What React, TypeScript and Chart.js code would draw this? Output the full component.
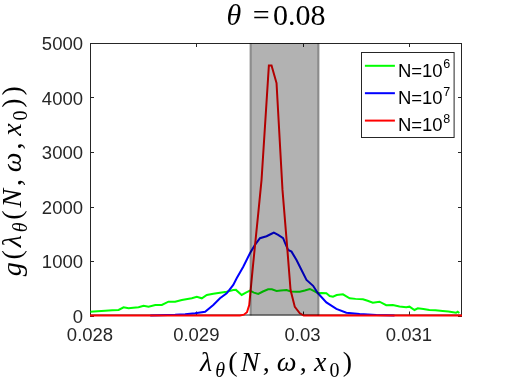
import { useEffect, useRef } from "react";
import { Chart, registerables } from "chart.js";

Chart.register(...registerables);

// ---------- data ----------
const xTickValues = [0.028, 0.029, 0.03, 0.031];
const xTickLabels = ["0.028", "0.029", "0.03", "0.031"];
const yTickValues = [0, 1000, 2000, 3000, 4000, 5000];
const yTickLabels = ["0", "1000", "2000", "3000", "4000", "5000"];
const bandRange = [0.02951, 0.03015];
const titleValue = "0.08";
const seriesExponents = ["6", "7", "8"];
const seriesColors = ["#00ff00", "#0000ff", "#ff0000"];

const greenX = [
  0.028004, 0.02807, 0.028144, 0.02821, 0.028269, 0.028316, 0.028363, 0.028407, 0.028457, 0.028504,
  0.028551, 0.028614, 0.028676, 0.028738, 0.028801, 0.028864, 0.028904, 0.028958, 0.029005, 0.029052,
  0.029099, 0.02916, 0.029223, 0.029286, 0.029348, 0.029373, 0.029427, 0.029467, 0.029505, 0.029542,
  0.029583, 0.029627, 0.029676, 0.029711, 0.029755, 0.029795, 0.029849, 0.029889, 0.029943, 0.029974,
  0.030021, 0.030068, 0.030105, 0.030145, 0.03018, 0.030224, 0.030255, 0.030286, 0.030321, 0.03038,
  0.030443, 0.030499, 0.030568, 0.030612, 0.030661, 0.030724, 0.030787, 0.030849, 0.030912, 0.030975,
  0.031006, 0.031053, 0.031084, 0.031137, 0.031193, 0.03125, 0.031318, 0.031372, 0.031444, 0.031459,
  0.031475,
];
const greenY = [
  70, 80, 88, 95, 101, 150, 132, 140, 150, 180,
  162, 193, 193, 253, 253, 285, 300, 316, 345, 316,
  377, 400, 419, 437, 468, 470, 377, 420, 455, 420,
  395, 440, 481, 480, 450, 460, 468, 440, 437, 437,
  460, 487, 450, 408, 415, 408, 358, 345, 375, 389,
  316, 305, 298, 270, 235, 253, 190, 193, 165, 150,
  162, 101, 132, 120, 101, 95, 83, 75, 51, 70,
  45,
];

const blueX = [
  0.028567, 0.02866, 0.028801, 0.028895, 0.028989, 0.029083, 0.02916, 0.029223, 0.029286, 0.029348,
  0.02938, 0.029442, 0.029505, 0.029552, 0.029599, 0.029661, 0.029708, 0.02973, 0.02977, 0.029817,
  0.029833, 0.029864, 0.029896, 0.029943, 0.02999, 0.030037, 0.030099, 0.030145, 0.030224, 0.030318,
  0.030412, 0.030537, 0.030693, 0.030865,
];
const blueY = [
  0, 5, 12, 22, 40, 70, 193, 316, 408, 560,
  683, 896, 1143, 1295, 1418, 1455, 1500, 1521, 1479, 1418,
  1340, 1203, 1172, 1019, 836, 652, 545, 408, 240, 120,
  51, 28, 9, 0,
];

const redX = [
  0.028, 0.029411, 0.029448, 0.029477, 0.029498, 0.029536, 0.029583, 0.029614, 0.029683, 0.029708,
  0.029755, 0.029811, 0.029855, 0.029887, 0.029927, 0.029974, 0.030011, 0.0315,
];
const redY = [
  0, 0, 15, 60, 193, 965, 1874, 2488, 4588, 4588,
  4265, 2305, 1258, 468, 158, 40, 0, 0,
];

// ---------- helpers ----------
type Seg = { t: string; it?: boolean; sub?: boolean; sp?: number };
const SERIF = "'Liberation Serif', serif";
const SANS = "'Liberation Sans', Arial, Helvetica, sans-serif";

function drawRich(
  ctx: CanvasRenderingContext2D,
  segs: Seg[],
  cx: number,
  baseline: number,
  size: number,
  rot: number,
  targetWidth?: number
) {
  ctx.save();
  ctx.translate(cx, baseline);
  ctx.rotate(rot);
  const fontOf = (s: Seg) => `${s.it ? "italic " : ""}${s.sub ? Math.round(size * 0.7) : size}px ${SERIF}`;
  let total = 0;
  const ws = segs.map((s) => {
    ctx.font = fontOf(s);
    const w = ctx.measureText(s.t).width + (s.sp || 0);
    total += w;
    return w;
  });
  let extra = 0;
  if (targetWidth && segs.length > 1) extra = (targetWidth - total) / (segs.length - 1);
  const full = total + extra * (segs.length - 1);
  let xx = -full / 2;
  ctx.textAlign = "left";
  ctx.textBaseline = "alphabetic";
  ctx.fillStyle = "#000";
  segs.forEach((s, i) => {
    ctx.font = fontOf(s);
    ctx.fillText(s.t, xx, s.sub ? size * 0.22 : 0);
    xx += ws[i] + extra;
  });
  ctx.restore();
}

const lambdaSegs: Seg[] = [
  { t: "λ", it: true },
  { t: "θ", it: true, sub: true },
  { t: "(" },
  { t: "N", it: true },
  { t: ",", sp: 4 },
  { t: "ω", it: true },
  { t: ",", sp: 4 },
  { t: "x", it: true },
  { t: "0", sub: true },
  { t: ")" },
];

const decorPlugin = {
  id: "decor",
  beforeDatasetsDraw(chart: any) {
    const { ctx, chartArea: a, scales } = chart;
    const xs = scales.x;
    const ys = scales.y;
    ctx.save();
    ctx.strokeStyle = "#262626";
    ctx.lineWidth = 1;
    ctx.strokeRect(a.left + 0.5, a.top + 0.5, a.right - a.left - 1, a.bottom - a.top - 1);
    ctx.beginPath();
    const tl = 4;
    xTickValues.forEach((v) => {
      const p = Math.round(xs.getPixelForValue(v)) + 0.5;
      ctx.moveTo(p, a.bottom);
      ctx.lineTo(p, a.bottom - tl);
      ctx.moveTo(p, a.top);
      ctx.lineTo(p, a.top + tl);
    });
    yTickValues.forEach((v) => {
      const p = Math.round(ys.getPixelForValue(v)) + 0.5;
      ctx.moveTo(a.left, p);
      ctx.lineTo(a.left + tl, p);
      ctx.moveTo(a.right, p);
      ctx.lineTo(a.right - tl, p);
    });
    ctx.stroke();
    ctx.restore();
  },
  afterDatasetsDraw(chart: any) {
    const { ctx, chartArea: a, scales } = chart;
    const xs = scales.x;
    const l = xs.getPixelForValue(bandRange[0]);
    const r = xs.getPixelForValue(bandRange[1]);
    ctx.save();
    ctx.fillStyle = "rgba(0,0,0,0.3)";
    ctx.fillRect(l, a.top, r - l, a.bottom - a.top);
    ctx.strokeStyle = "rgba(0,0,0,0.35)";
    ctx.lineWidth = 2;
    ctx.beginPath();
    ctx.moveTo(l, a.top);
    ctx.lineTo(l, a.bottom);
    ctx.moveTo(r, a.top);
    ctx.lineTo(r, a.bottom);
    ctx.stroke();
    ctx.restore();
  },
  afterDraw(chart: any) {
    const { ctx, chartArea: a } = chart;
    const cx = (a.left + a.right) / 2;
    const cy = (a.top + a.bottom) / 2;
    // title
    drawRich(
      ctx,
      [{ t: "θ", it: true, sp: 9 }, { t: "=", sp: 1 }, { t: titleValue }],
      cx,
      25,
      30,
      0,
      99
    );
    // x label
    drawRich(ctx, lambdaSegs, cx, 371, 28, 0, 152);
    // y label
    drawRich(
      ctx,
      [{ t: "g", it: true }, { t: "(" }, ...lambdaSegs, { t: ")" }],
      21,
      cy + 2,
      28,
      -Math.PI / 2,
      190
    );
    // legend
    const lw = 92.6;
    const lh = 85;
    const bx = a.right - 8 - lw;
    const by = a.top + 8.5;
    ctx.save();
    ctx.fillStyle = "#fff";
    ctx.fillRect(bx, by, lw, lh);
    ctx.strokeStyle = "#262626";
    ctx.lineWidth = 1;
    ctx.strokeRect(Math.round(bx) + 0.5, Math.round(by) + 0.5, lw, lh);
    seriesExponents.forEach((e, i) => {
      const ly = by + 14.3 + i * 27.4;
      ctx.strokeStyle = seriesColors[i];
      ctx.lineWidth = 2;
      ctx.beginPath();
      ctx.moveTo(bx + 3.5, ly);
      ctx.lineTo(bx + 33.5, ly);
      ctx.stroke();
      ctx.fillStyle = "#000";
      ctx.textAlign = "left";
      ctx.textBaseline = "alphabetic";
      ctx.font = `18.5px ${SANS}`;
      const txt = "N=10";
      ctx.fillText(txt, bx + 36.5, ly + 10.7);
      const w = ctx.measureText(txt).width;
      ctx.font = `12.5px ${SANS}`;
      ctx.fillText(e, bx + 36.5 + w + 0.5, ly + 2.5);
    });
    ctx.restore();
  },
};

export default function App() {
  const ref = useRef<HTMLCanvasElement | null>(null);
  useEffect(() => {
    if (!ref.current) return;
    const mk = (xsArr: number[], ysArr: number[]) => xsArr.map((x, i) => ({ x, y: ysArr[i] }));
    const chart = new Chart(ref.current, {
      type: "line",
      data: {
        datasets: [
          {
            label: "N=10^6",
            data: mk(greenX, greenY),
            borderColor: seriesColors[0],
            borderWidth: 2,
            pointRadius: 0,
            tension: 0,
            order: 2,
            clip: false as any,
          },
          {
            label: "N=10^7",
            data: mk(blueX, blueY),
            borderColor: seriesColors[1],
            borderWidth: 2,
            pointRadius: 0,
            tension: 0,
            order: 1,
            clip: false as any,
          },
          {
            label: "N=10^8",
            data: mk(redX, redY),
            borderColor: seriesColors[2],
            borderWidth: 2,
            pointRadius: 0,
            tension: 0,
            order: 0,
            clip: false as any,
          },
        ],
      },
      options: {
        animation: false,
        responsive: false,
        events: [],
        layout: { padding: { left: 0, top: 43, right: 50, bottom: 0 } },
        plugins: { legend: { display: false }, tooltip: { enabled: false }, title: { display: false } },
        scales: {
          x: {
            type: "linear",
            min: 0.028,
            max: 0.0315,
            grid: { display: false, drawTicks: false },
            border: { display: false },
            afterBuildTicks: (s: any) => {
              s.ticks = xTickValues.map((v) => ({ value: v }));
            },
            afterFit: (s: any) => {
              s.height = 68.5;
            },
            ticks: {
              autoSkip: false,
              maxRotation: 0,
              padding: 9,
              color: "#262626",
              font: { family: SANS, size: 18.5 },
              callback: (_v: any, i: number) => xTickLabels[i],
            },
          },
          y: {
            type: "linear",
            min: 0,
            max: 5000,
            grid: { display: false, drawTicks: false },
            border: { display: false },
            afterBuildTicks: (s: any) => {
              s.ticks = yTickValues.map((v) => ({ value: v }));
            },
            afterFit: (s: any) => {
              s.width = 90;
            },
            ticks: {
              autoSkip: false,
              padding: 7,
              labelOffset: 2,
              color: "#262626",
              font: { family: SANS, size: 18.5 },
              callback: (_v: any, i: number) => yTickLabels[i],
            },
          },
        },
      },
      plugins: [decorPlugin],
    });
    return () => chart.destroy();
  }, []);
  return (
    <div style={{ position: "absolute", left: 0, top: 0, width: 512, height: 384, background: "#fff" }}>
      <canvas ref={ref} width={512} height={384} style={{ width: 512, height: 384 }} />
    </div>
  );
}
